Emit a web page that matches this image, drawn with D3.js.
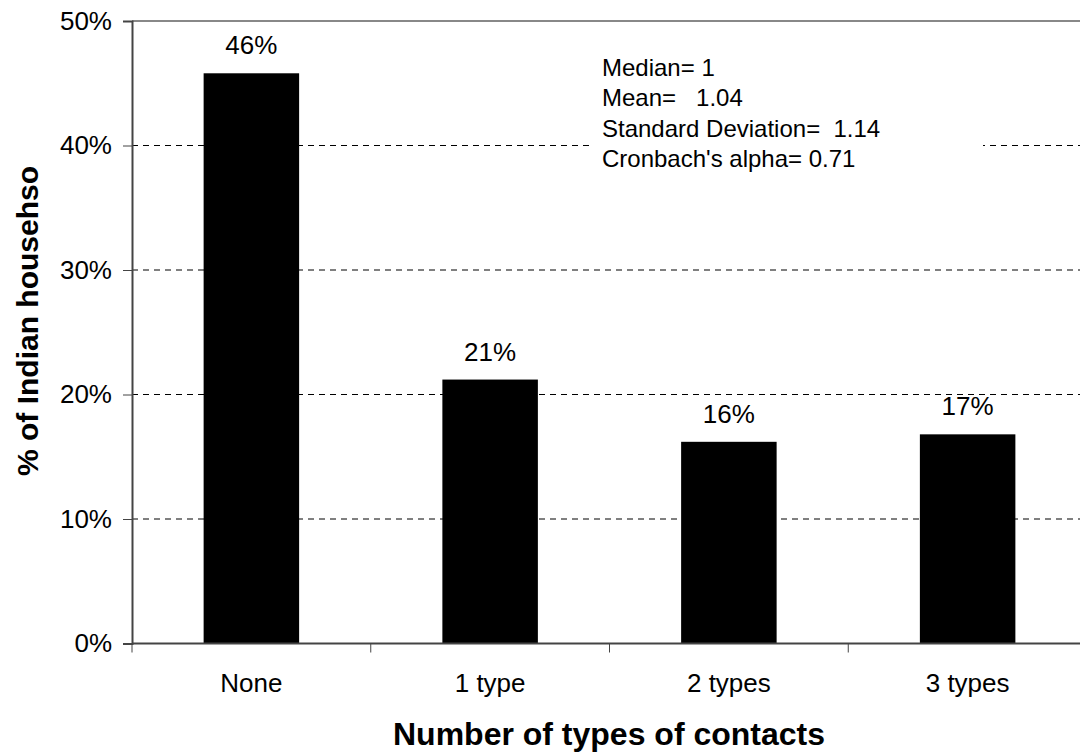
<!DOCTYPE html>
<html>
<head>
<meta charset="utf-8">
<script src="https://cdn.jsdelivr.net/npm/d3@7"></script>
<style>
  body { margin: 0; background: #fff; }
  svg { font-family: "Liberation Sans", Arial, sans-serif; }
</style>
</head>
<body>
<svg id="chart" width="1080" height="752"></svg>
<script>
// chart data
const categories = ["None", "1 type", "2 types", "3 types"];
const values = [0.458, 0.212, 0.162, 0.168];
const valueLabels = ["46%", "21%", "16%", "17%"];
const yTicks = [0, 0.1, 0.2, 0.3, 0.4, 0.5];
const statLines = ["Median= 1", "Mean=   1.04", "Standard Deviation=  1.14", "Cronbach's alpha= 0.71"];

const svg = d3.select("#chart");

// plot area (runs a bit past the right edge, as in the original)
const plotLeft = 132, plotRight = 1087, plotTop = 21, plotBottom = 643.5;

const x = d3.scaleBand()
  .domain(categories)
  .range([plotLeft, plotRight])
  .paddingInner(0.6)
  .paddingOuter(0.3);

const y = d3.scaleLinear()
  .domain([0, 0.5])
  .range([plotBottom, plotTop]);

// dashed gridlines
svg.append("g")
  .selectAll("line")
  .data(yTicks.filter((d) => d > 0 && d < 0.5))
  .enter()
  .append("line")
  .attr("x1", plotLeft)
  .attr("x2", plotRight)
  .attr("y1", (d) => y(d))
  .attr("y2", (d) => y(d))
  .attr("stroke", "#000")
  .attr("stroke-width", 1)
  .attr("stroke-dasharray", "6,5");

// top border
svg.append("line")
  .attr("x1", plotLeft).attr("x2", plotRight)
  .attr("y1", plotTop).attr("y2", plotTop)
  .attr("stroke", "#888").attr("stroke-width", 2);

// bars
svg.append("g")
  .selectAll("rect")
  .data(values)
  .enter()
  .append("rect")
  .attr("x", (d, i) => x(categories[i]))
  .attr("y", (d) => y(d))
  .attr("width", x.bandwidth())
  .attr("height", (d) => y(0) - y(d))
  .attr("fill", "#000");

// value labels above bars
svg.append("g")
  .selectAll("text")
  .data(values)
  .enter()
  .append("text")
  .attr("x", (d, i) => x(categories[i]) + x.bandwidth() / 2)
  .attr("y", (d) => y(d) - 19)
  .attr("text-anchor", "middle")
  .attr("font-size", 26)
  .text((d, i) => valueLabels[i]);

// y axis
const yAxis = d3.axisLeft(y)
  .tickValues(yTicks)
  .tickFormat(d3.format(".0%"))
  .tickSize(9)
  .tickPadding(11);

const yg = svg.append("g")
  .attr("transform", "translate(" + plotLeft + ",0)")
  .call(yAxis);
yg.select(".domain").attr("stroke", "#444").attr("stroke-width", 2);
yg.selectAll(".tick line").attr("stroke", "#444");
yg.selectAll(".tick text")
  .attr("font-size", 26)
  .attr("font-family", "Liberation Sans, Arial, sans-serif")
  .attr("fill", "#000");

// x axis: ticks at category boundaries
const xg = svg.append("g");
xg.append("line")
  .attr("x1", plotLeft).attr("x2", plotRight)
  .attr("y1", plotBottom).attr("y2", plotBottom)
  .attr("stroke", "#444").attr("stroke-width", 2);

const bounds = categories.map((c) => x(c) - x.bandwidth() * 0.75);
xg.selectAll(".xtick")
  .data(bounds)
  .enter()
  .append("line")
  .attr("class", "xtick")
  .attr("x1", (d) => d).attr("x2", (d) => d)
  .attr("y1", plotBottom).attr("y2", plotBottom + 9)
  .attr("stroke", "#444");

xg.selectAll(".xlabel")
  .data(categories)
  .enter()
  .append("text")
  .attr("class", "xlabel")
  .attr("x", (d) => x(d) + x.bandwidth() / 2)
  .attr("y", 692)
  .attr("text-anchor", "middle")
  .attr("font-size", 26)
  .text((d) => d);

// axis titles
svg.append("text")
  .attr("x", 609)
  .attr("y", 745)
  .attr("text-anchor", "middle")
  .attr("font-size", 32)
  .attr("font-weight", "bold")
  .text("Number of types of contacts");

svg.append("text")
  .attr("transform", "translate(38,321) rotate(-90)")
  .attr("text-anchor", "middle")
  .attr("font-size", 30)
  .attr("font-weight", "bold")
  .text("% of Indian househso");

// stats box
svg.append("rect")
  .attr("x", 593).attr("y", 50)
  .attr("width", 390).attr("height", 130)
  .attr("fill", "#fff");

svg.append("g")
  .selectAll("text")
  .data(statLines)
  .enter()
  .append("text")
  .attr("x", 602)
  .attr("y", (d, i) => 76 + i * 30.4)
  .attr("font-size", 24)
  .style("white-space", "pre")
  .text((d) => d);
</script>
</body>
</html>
